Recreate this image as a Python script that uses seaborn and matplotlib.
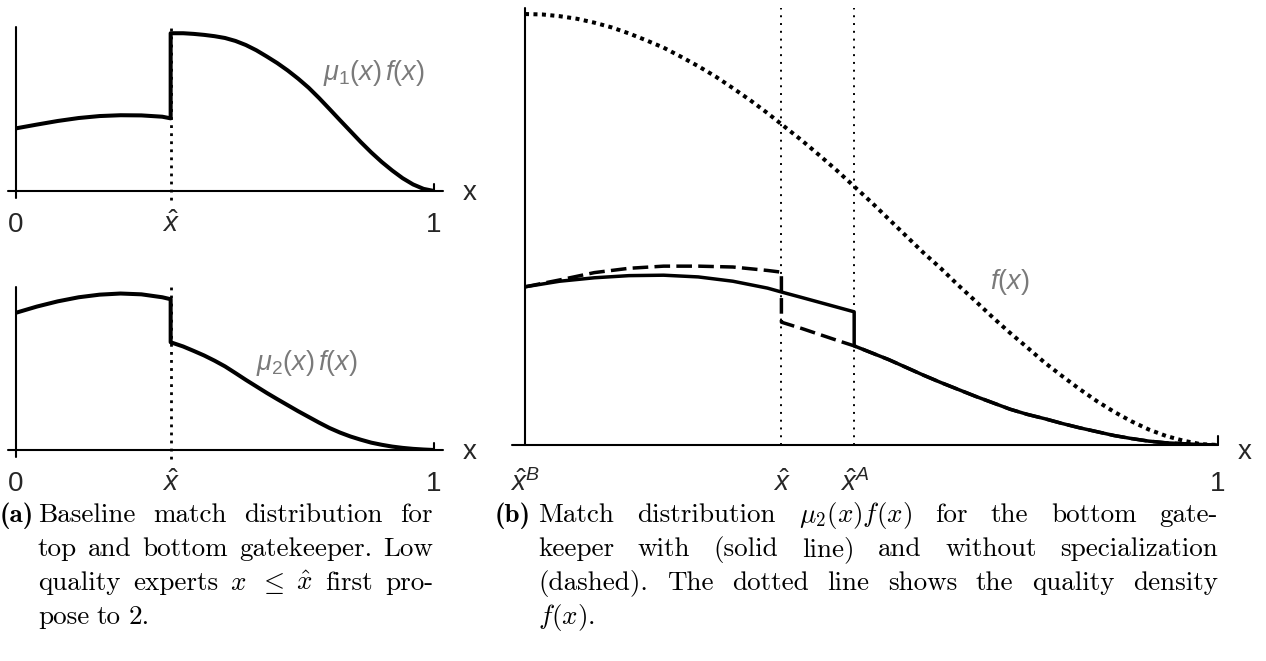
import matplotlib
matplotlib.use("Agg")
import matplotlib.pyplot as plt
import seaborn as sns

# values
x_hat = 0.37
x_hat_A = 0.475

# panel (a): match distributions of top (mu_1) and bottom (mu_2) gatekeeper
x_a_low = [0.0, 0.05, 0.10, 0.15, 0.20, 0.25, 0.30, 0.35, x_hat]
x_a_high = [x_hat, 0.40, 0.425, 0.45, 0.475, 0.50, 0.525, 0.55, 0.575, 0.60, 0.625, 0.65, 0.675,
            0.70, 0.725, 0.75, 0.775, 0.80, 0.825, 0.85, 0.875, 0.90, 0.925, 0.95, 0.975, 1.0]
mu1f_low = [0.382, 0.405, 0.427, 0.445, 0.457, 0.462, 0.461, 0.453, 0.443]
mu1f_high = [0.962, 0.962, 0.958, 0.952, 0.944, 0.933, 0.915, 0.89, 0.858, 0.82, 0.78, 0.735, 0.685,
             0.63, 0.567, 0.50, 0.432, 0.365, 0.298, 0.235, 0.177, 0.125, 0.078, 0.04, 0.013, 0.0]
mu2f_low = [0.842, 0.880, 0.912, 0.937, 0.953, 0.960, 0.955, 0.937, 0.925]
mu2f_high = [0.661, 0.635, 0.608, 0.58, 0.548, 0.513, 0.472, 0.43, 0.39, 0.35, 0.312, 0.275, 0.238,
             0.203, 0.168, 0.135, 0.107, 0.083, 0.063, 0.045, 0.032, 0.021, 0.013, 0.007, 0.003, 0.0]

# panel (b): quality density and bottom gatekeeper with / without specialization
x_grid = [0.0, 0.025, 0.05, 0.075, 0.10, 0.125, 0.15, 0.175, 0.20, 0.225, 0.25, 0.275, 0.30, 0.325,
          0.35, 0.375, 0.40, 0.425, 0.45, 0.475, 0.50, 0.525, 0.55, 0.575, 0.60, 0.625, 0.65, 0.675,
          0.70, 0.725, 0.75, 0.775, 0.80, 0.825, 0.85, 0.875, 0.90, 0.925, 0.95, 0.975, 1.0]
f_vals = [1.000, 0.999, 0.995, 0.989, 0.980, 0.969, 0.955, 0.939, 0.922, 0.901, 0.879, 0.855, 0.828, 0.800,
          0.770, 0.738, 0.706, 0.672, 0.637, 0.600, 0.563, 0.524, 0.485, 0.446, 0.410, 0.371, 0.334, 0.296,
          0.260, 0.226, 0.191, 0.160, 0.130, 0.102, 0.077, 0.055, 0.036, 0.021, 0.010, 0.002, 0.0]
x_b_low = [0.0, 0.05, 0.10, 0.15, 0.20, 0.25, 0.30, 0.35, x_hat]
spec_low = [0.367, 0.380, 0.388, 0.393, 0.394, 0.390, 0.380, 0.364, 0.355]
nospec_low = [0.367, 0.383, 0.400, 0.410, 0.415, 0.415, 0.413, 0.405, 0.401]
x_b_mid = [x_hat, 0.40, 0.45, x_hat_A]
spec_mid = [0.355, 0.342, 0.320, 0.309]
nospec_mid = [0.285, 0.270, 0.243, 0.230]
x_b_tail = [x_hat_A, 0.50, 0.525, 0.55, 0.575, 0.60, 0.625, 0.65, 0.675, 0.70, 0.725, 0.75,
            0.775, 0.80, 0.825, 0.85, 0.875, 0.90, 0.925, 0.95, 0.975, 1.0]
tail = [0.230, 0.214, 0.198, 0.180, 0.162, 0.145, 0.129, 0.113, 0.098, 0.083, 0.071, 0.061,
        0.050, 0.040, 0.031, 0.022, 0.015, 0.009, 0.005, 0.003, 0.001, 0.0]

sns.set_theme(style="white")
plt.rcParams["font.family"] = ["Liberation Sans", "DejaVu Sans"]
plt.rcParams["mathtext.fontset"] = "custom"
plt.rcParams["mathtext.rm"] = "Liberation Sans"
plt.rcParams["mathtext.it"] = "Liberation Sans:italic"
plt.rcParams["mathtext.bf"] = "Liberation Sans:bold"

W, H = 1266, 661
fig = plt.figure(figsize=(W / 100, H / 100), dpi=100)
GREY = "#7a7a7a"


def px_axes(left, top_axis, bottom_axis, right):
    return fig.add_axes([left / W, 1 - bottom_axis / H, (right - left) / W, (bottom_axis - top_axis) / H])


def frame(ax, ytop, xleft, xright, ybelow, tick_h, xlab_x, pad):
    ax.set_xlim(0, 1)
    ax.set_ylim(0, ytop)
    sns.despine(ax=ax, left=True, bottom=True)
    ax.set_yticks([])
    ax.plot([xleft, xright], [0, 0], color="black", lw=1.5, clip_on=False, zorder=2)
    ax.plot([0, 0], [ybelow, ytop], color="black", lw=1.5, clip_on=False, zorder=2)
    ax.plot([1, 1], [0, tick_h], color="black", lw=1.5, clip_on=False, zorder=2)
    ax.text(xlab_x, -0.015 * ytop, "x", ha="center", va="center", fontsize=20)
    ax.tick_params(axis="x", length=0, pad=pad, labelsize=20)
    for t in ax.get_xticklabels():
        t.set_verticalalignment("baseline")


# ---- panel (a), top
ax1 = px_axes(16, 27, 191, 434)
ax1.vlines(x_hat, -0.055, 1.0, color="black", lw=2, linestyles=(0, (1, 1.9)), clip_on=False, zorder=1)
sns.lineplot(x=x_a_low + x_a_high, y=mu1f_low + mu1f_high, sort=False, estimator=None,
             color="black", lw=2.9, ax=ax1, zorder=3)
ax1.set_xticks([0, x_hat, 1], labels=["0", r"$\hat{x}$", "1"])
frame(ax1, 1.0, -0.019, 1.022, -0.04, 0.04, 1.086, 29.5)
ax1.text(0.856, 0.72, r"$\mu_1(x)\,f(x)$", ha="center", va="center", color=GREY, fontsize=19.5)

# ---- panel (a), bottom
ax2 = px_axes(16, 287, 450, 434)
ax2.vlines(x_hat, -0.055, 1.0, color="black", lw=2, linestyles=(0, (1, 1.9)), clip_on=False, zorder=1)
sns.lineplot(x=x_a_low + x_a_high, y=mu2f_low + mu2f_high, sort=False, estimator=None,
             color="black", lw=2.9, ax=ax2, zorder=3)
ax2.set_xticks([0, x_hat, 1], labels=["0", r"$\hat{x}$", "1"])
frame(ax2, 1.0, -0.019, 1.022, -0.04, 0.04, 1.086, 29.5)
ax2.text(0.696, 0.534, r"$\mu_2(x)\,f(x)$", ha="center", va="center", color=GREY, fontsize=19.5)

# ---- panel (b)
ax3 = px_axes(525, 8, 445, 1218)
ax3.vlines([x_hat, x_hat_A], 0, 1.014, color="black", lw=1.4, linestyles=(0, (1, 3)), zorder=1)
sns.lineplot(x=x_grid, y=f_vals, color="black", lw=2.9, linestyle=(0, (1, 1.1)), ax=ax3, zorder=3)
sns.lineplot(x=x_b_low + x_b_mid + x_b_tail[1:], y=nospec_low + nospec_mid + tail[1:],
             sort=False, estimator=None, color="black", lw=2.5, linestyle=(0, (4.5, 1.8)), ax=ax3, zorder=3)
sns.lineplot(x=x_b_low + x_b_mid[1:] + x_b_tail, y=spec_low + spec_mid[1:] + tail,
             sort=False, estimator=None, color="black", lw=2.5, ax=ax3, zorder=4)
ax3.set_xticks([0, x_hat, x_hat_A, 1], labels=[r"$\hat{x}^B$", r"$\hat{x}$", r"$\hat{x}^A$", "1"])
frame(ax3, 1.014, -0.019, 1.0, 0, 0.02, 1.039, 33)
ax3.text(0.70, 0.378, r"$f(x)$", ha="center", va="center", color=GREY, fontsize=19.5)

# ---- captions (justified by hand)
renderer = fig.canvas.get_renderer()
cap = dict(fontsize=19.5, family="cmr10", math_fontfamily="cm", color="black")
capb = dict(fontsize=19.5, family="cmb10", color="black")


def put_line(words, x0, x1, y, stretch):
    arts = [fig.text(x0 / W, 1 - y / H, w, va="baseline", **cap) for w in words]
    widths = [a.get_window_extent(renderer).width for a in arts]
    gap = 7.5
    if stretch and len(words) > 1:
        gap = (x1 - x0 - sum(widths)) / (len(words) - 1)
    x = x0
    for a, w in zip(arts, widths):
        a.set_x(x / W)
        x += w + gap


cap_a = [
    ["Baseline", "match", "distribution", "for"],
    ["top", "and", "bottom", "gatekeeper.", "Low"],
    ["quality", "experts", r"$x$", r"$\leq$", r"$\hat{x}$", "first", "pro-"],
    ["pose", "to", "2."],
]
cap_b = [
    ["Match", "distribution", r"$\mu_2(x)f(x)$", "for", "the", "bottom", "gate-"],
    ["keeper", "with", "(solid", "line)", "and", "without", "specialization"],
    ["(dashed).", "The", "dotted", "line", "shows", "the", "quality", "density"],
    [r"$f(x)$."],
]
line_y = [522, 556, 590, 624]

fig.text(0, 1 - line_y[0] / H, "(a)", va="baseline", **capb)
for i, words in enumerate(cap_a):
    put_line(words, 38, 433, line_y[i], i < len(cap_a) - 1)
fig.text(495 / W, 1 - line_y[0] / H, "(b)", va="baseline", **capb)
for i, words in enumerate(cap_b):
    put_line(words, 538, 1218, line_y[i], i < len(cap_b) - 1)

fig.savefig("out.png", dpi=100)
